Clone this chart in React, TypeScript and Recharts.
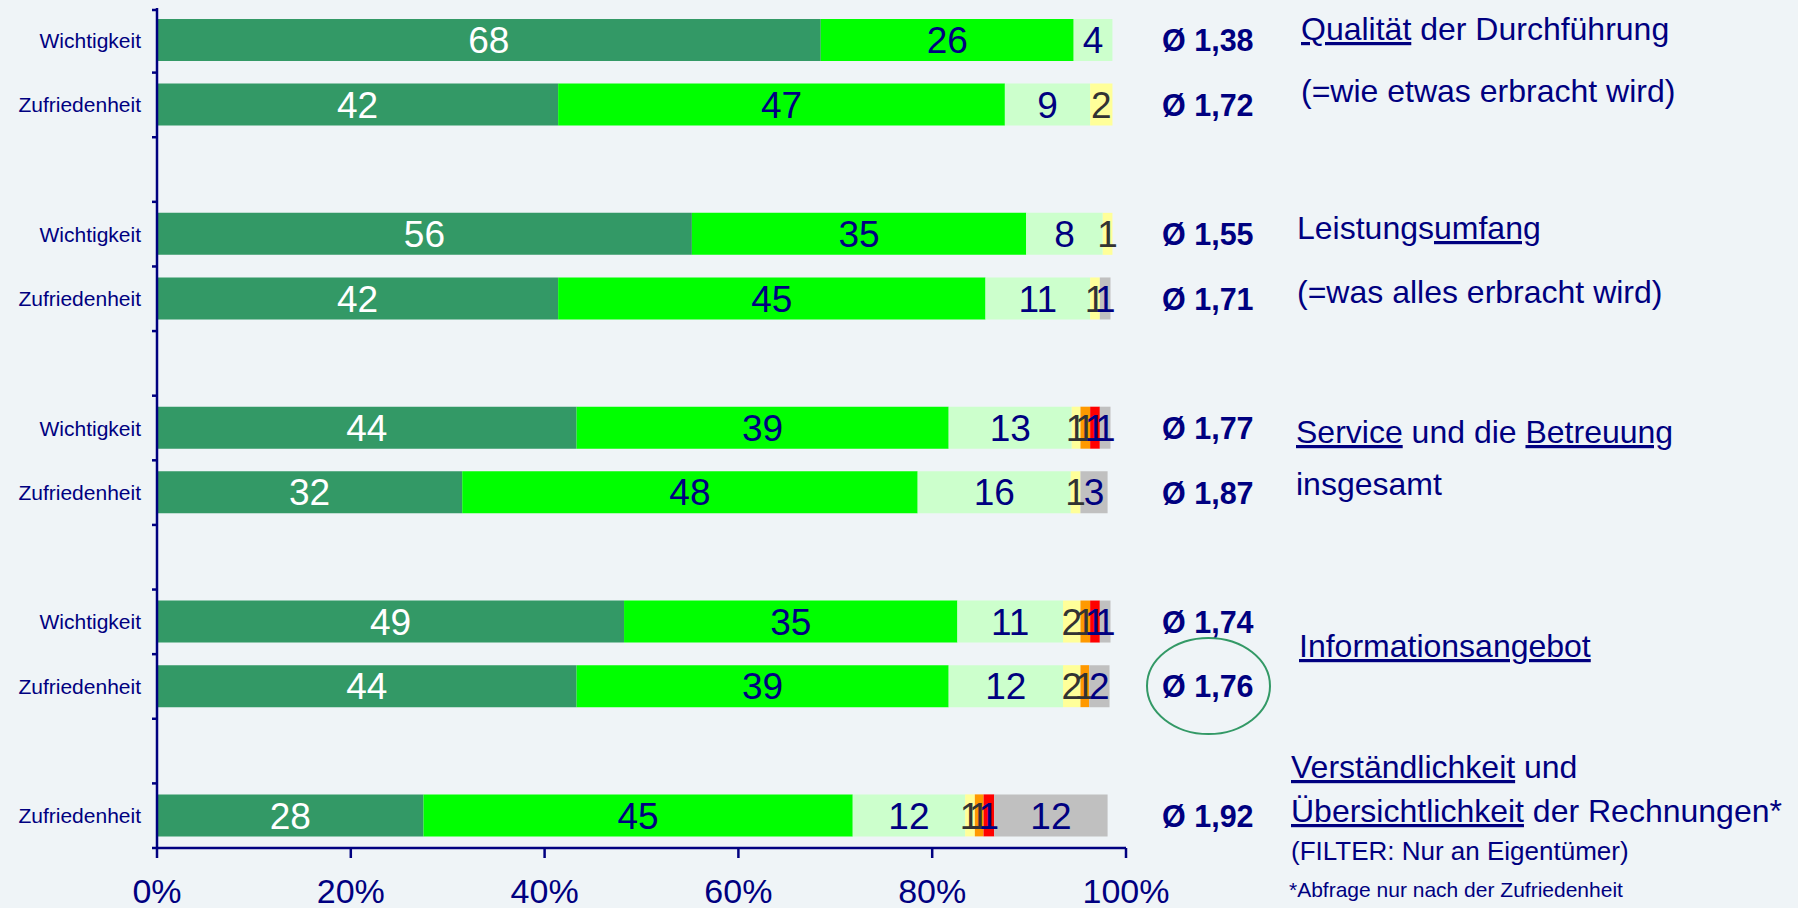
import React from 'react';
import { BarChart, Bar, XAxis, YAxis, LabelList } from 'recharts';

// 13 category rows (empty rows are the gaps between topic groups)
const categories = [
  'Wichtigkeit', 'Zufriedenheit', '',
  'Wichtigkeit', 'Zufriedenheit', '',
  'Wichtigkeit', 'Zufriedenheit', '',
  'Wichtigkeit', 'Zufriedenheit', '',
  'Zufriedenheit',
];

// segment values (% of respondents)
const s1 = [68.5, 41.4, null, 55.2, 41.4, null, 43.3, 31.5, null, 48.2, 43.3, null, 27.5];
const s2 = [26.1, 46.1, null, 34.5, 44.1, null, 38.4, 47.0, null, 34.4, 38.4, null, 44.3];
const s3 = [4.0, 8.8, null, 7.9, 10.8, null, 12.7, 15.8, null, 10.9, 11.8, null, 11.6];
const s4 = [0, 2.3, null, 1.0, 1.0, null, 0.9, 1.0, null, 1.8, 1.8, null, 1.0];
const s5 = [0, 0, null, 0, 0, null, 1.0, 0, null, 1.0, 0.9, null, 0.9];
const s6 = [0, 0, null, 0, 0, null, 1.0, 0, null, 1.0, 0, null, 1.1];
const s7 = [0, 0, null, 0, 1.1, null, 1.1, 2.8, null, 1.1, 2.1, null, 11.7];

// printed segment labels
const l1 = [68, 42, null, 56, 42, null, 44, 32, null, 49, 44, null, 28];
const l2 = [26, 47, null, 35, 45, null, 39, 48, null, 35, 39, null, 45];
const l3 = [4, 9, null, 8, 11, null, 13, 16, null, 11, 12, null, 12];
const l4 = [null, 2, null, 1, 1, null, 1, 1, null, 2, 2, null, 1];
const l5 = [null, null, null, null, null, null, 1, null, null, 1, 1, null, 1];
const l6 = [null, null, null, null, null, null, 1, null, null, 1, null, null, 1];
const l7 = [null, null, null, null, 1, null, 1, 3, null, 1, 2, null, 12];

// averages
const averages = [1.38, 1.72, null, 1.55, 1.71, null, 1.77, 1.87, null, 1.74, 1.76, null, 1.92];

const xTicks = [0, 20, 40, 60, 80, 100];

const valueSeries = [s1, s2, s3, s4, s5, s6, s7];
const labelSeries = [l1, l2, l3, l4, l5, l6, l7];

const data = categories.map((name, i) => {
  const row: any = { name, avg: averages[i] == null ? '' : 'Ø ' + averages[i]!.toFixed(2).replace('.', ',') };
  valueSeries.forEach((s, k) => {
    row['v' + (k + 1)] = s[i] == null ? undefined : s[i];
  });
  labelSeries.forEach((s, k) => {
    row['l' + (k + 1)] = s[i] == null ? undefined : s[i];
  });
  return row;
});

const NAVY = '#000080';
const FONT = '"Liberation Sans", Arial, sans-serif';
const fills = ['#339966', '#00FF00', '#CCFFCC', '#FFFF99', '#FF9900', '#FF0000', '#C0C0C0'];
const labelColors = ['#FFFFFF', NAVY, NAVY, '#333333', '#333333', NAVY, NAVY];

const LeftTick = (props: any) => {
  const { x, y, payload } = props;
  const off = payload && payload.offset ? payload.offset : 32.3;
  const axisX = x + 16;
  const idx = payload ? payload.index : 0;
  return (
    <g>
      <text x={x} y={y} dy="0.36em" textAnchor="end" fill={NAVY} fontSize={21} fontFamily={FONT}>
        {categories[idx] ?? payload.value}
      </text>
      <line x1={axisX - 5} x2={axisX} y1={y + off} y2={y + off} stroke={NAVY} strokeWidth={2.5} />
      {idx === 0 ? (
        <line x1={axisX - 5} x2={axisX} y1={y - off + 2} y2={y - off + 2} stroke={NAVY} strokeWidth={2.5} />
      ) : null}
    </g>
  );
};

const RightTick = (props: any) => {
  const { x, y, payload } = props;
  const idx = payload ? payload.index : 0;
  const v = averages[idx];
  if (v == null) return <g />;
  return (
    <text x={x} y={y} dy="0.36em" textAnchor="start" fill={NAVY} fontSize={30.5} fontWeight="bold" fontFamily={FONT}>
      {'Ø ' + v.toFixed(2).replace('.', ',')}
    </text>
  );
};

const u = { textDecoration: 'underline', textDecorationThickness: '3px' } as any;

export default function App() {
  return (
    <div style={{ position: 'absolute', left: 0, top: 0, width: 1798, height: 908, background: '#EFF4F7', fontFamily: FONT }}>
      <BarChart
        width={1798}
        height={908}
        data={data}
        layout="vertical"
        margin={{ top: 8, right: 522, bottom: 0, left: 7 }}
        barSize={42}
      >
        <XAxis
          type="number"
          domain={[0, 100]}
          ticks={xTicks}
          tickFormatter={(v: number) => v + '%'}
          height={60}
          tickSize={10}
          tickMargin={21}
          stroke={NAVY}
          strokeWidth={2.5}
          tick={{ fill: NAVY, fontSize: 34, fontFamily: FONT }}
          allowDataOverflow
        />
        <YAxis
          type="category"
          dataKey="name"
          width={150}
          interval={0}
          tickLine={false}
          tickSize={5}
          tickMargin={11}
          stroke={NAVY}
          strokeWidth={2.5}
          tick={<LeftTick />}
        />
        <YAxis
          yAxisId="right"
          type="category"
          dataKey="avg"
          orientation="right"
          width={150}
          interval={0}
          axisLine={false}
          tickLine={false}
          tickSize={0}
          tickMargin={36}
          tick={<RightTick />}
        />
        {fills.map((f, k) => (
          <Bar key={k} dataKey={'v' + (k + 1)} stackId="a" fill={f} isAnimationActive={false}>
            <LabelList
              dataKey={'l' + (k + 1)}
              position="center"
              fill={labelColors[k]}
              fontSize={37}
              fontFamily={FONT}
            />
          </Bar>
        ))}
      </BarChart>
      <svg width={1798} height={908} style={{ position: 'absolute', left: 0, top: 0, pointerEvents: 'none' }}>
        <g fill={NAVY} fontFamily={FONT} fontSize={32}>
          <text x={1301} y={40}><tspan style={u}>Qualität</tspan> der Durchführung</text>
          <text x={1301} y={102}>(=wie etwas erbracht wird)</text>
          <text x={1297} y={239}>Leistungs<tspan style={u}>umfang</tspan></text>
          <text x={1297} y={303}>(=was alles erbracht wird)</text>
          <text x={1296} y={443}><tspan style={u}>Service</tspan> und die <tspan style={u}>Betreuung</tspan></text>
          <text x={1296} y={495}>insgesamt</text>
          <text x={1299} y={657}><tspan style={u}>Informationsangebot</tspan></text>
          <text x={1291} y={778}><tspan style={u}>Verständlichkeit</tspan> und</text>
          <text x={1291} y={822}><tspan style={u}>Übersichtlichkeit</tspan> der Rechnungen*</text>
          <text x={1291} y={860} fontSize={26}>(FILTER: Nur an Eigentümer)</text>
          <text x={1289} y={897} fontSize={21}>*Abfrage nur nach der Zufriedenheit</text>
        </g>
        <ellipse cx={1208.5} cy={686} rx={61.5} ry={48} fill="none" stroke="#339966" strokeWidth={2} />
      </svg>
    </div>
  );
}
